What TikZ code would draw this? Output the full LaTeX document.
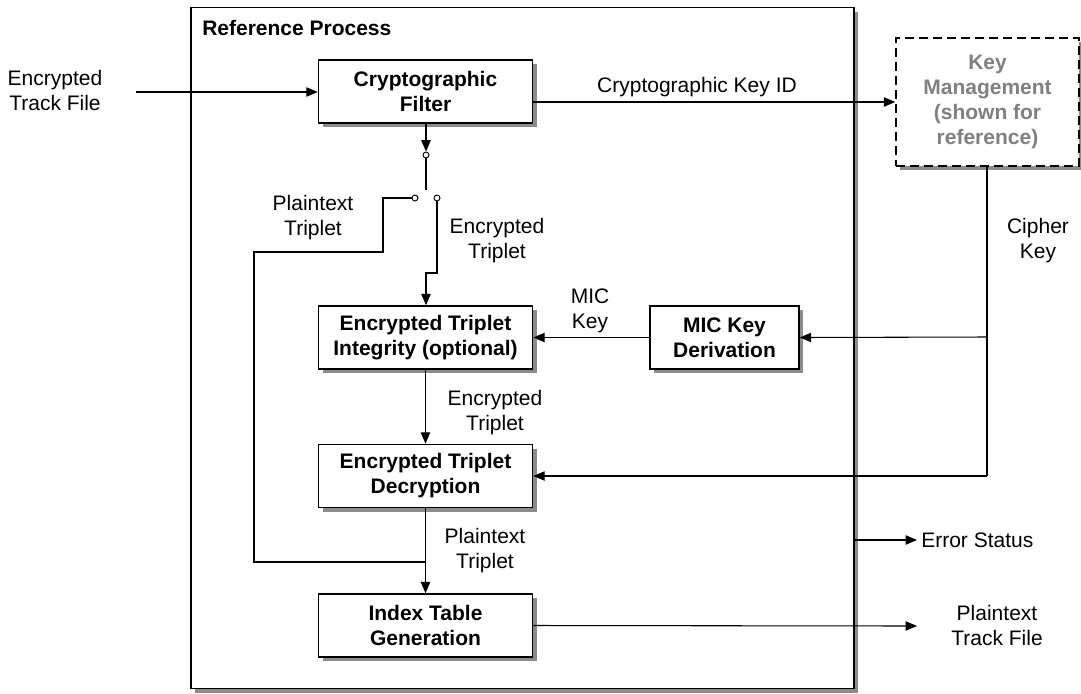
\documentclass[tikz,border=0pt]{standalone}
\usepackage{fontspec}
\setmainfont{Liberation Sans}
\usetikzlibrary{arrows.meta,shadows}
\definecolor{shadowgray}{HTML}{8C8C8C}
\definecolor{keygray}{HTML}{808080}
\begin{document}
\begin{tikzpicture}[x=0.75pt,y=-0.75pt,
  txt/.style={font=\fontsize{15.75}{18.75}\selectfont, align=center, inner sep=0pt},
  boxshadow/.style={drop shadow={shadow xshift=3pt, shadow yshift=-3pt, fill=shadowgray, opacity=1}},
  procbox/.style={draw=black, line width=1.2pt, fill=white, boxshadow,
    font=\fontsize{15.75}{18.75}\selectfont\bfseries, align=center,
    inner sep=0pt, minimum width=160.5pt, minimum height=47.25pt},
  keybox/.style={draw=black, line width=1.2pt, fill=white, boxshadow,
    dash pattern=on 7pt off 3.5pt, text=keygray,
    font=\fontsize{15.75}{18.75}\selectfont\bfseries, align=center,
    inner sep=0pt, minimum width=137.25pt, minimum height=96pt},
  wire/.style={draw=black, line width=0.8pt},
  flow/.style={wire, -{Triangle[length=8.5pt,width=7pt]}},
  contact/.style={circle, draw=black, line width=0.7pt, fill=white, inner sep=0pt, minimum size=4.5pt}
]
\useasboundingbox (0,0) rectangle (1081,693);

% enclosing process frame
\node[draw=black, line width=1.2pt, fill=white, boxshadow, inner sep=0pt,
      minimum width=497.25pt, minimum height=510.75pt] (frame) at (522.5,348) {};
\node[anchor=west, inner sep=0pt, font=\fontsize{15.75}{18.75}\selectfont\bfseries] (title) at (202,28) {Reference Process};

% processing blocks
\node[procbox] (filter) at (425.5,91.5) {Cryptographic\\Filter};
\node[procbox] (integ) at (425.5,337.5) {Encrypted Triplet\\Integrity (optional)};
\node[procbox, minimum width=111.75pt] (mic) at (724.5,337.5) {MIC Key\\Derivation};
\node[procbox] (decr) at (425.5,476) {Encrypted Triplet\\Decryption};
\node[procbox] (index) at (425.5,625.5) {Index Table\\Generation};
\node[keybox] (keymgmt) at (987.5,102) {Key\\Management\\(shown for\\reference)};

% free ends of the external connectors
\coordinate (inStart) at (136,92);
\coordinate (errStart) at (854,540);
\coordinate (errEnd) at (917,540);
\coordinate (outEnd) at (917,626);
\coordinate (keyTap) at (987,337);
\coordinate (keyCorner) at (987,476);

% input and key identifier
\draw[flow] (inStart) -- (filter.west |- inStart);
\draw[flow] (filter.east |- 0,102) -- (keymgmt.west |- 0,102);

% selector switch below the filter
\node[contact] (pivot) at (426,155) {};
\node[contact] (cplain) at (415,198) {};
\node[contact] (cenc) at (437,198) {};
\draw[flow] (filter.south -| pivot) -- (pivot.north);
\draw[wire] (pivot.south) -- (426,190);
\draw[wire] (cplain.west) -- (383,198) -- (383,252) -- (254,252) -- (254,562) -- (426,562);
\draw[flow] (cenc.south) -- (437,273) -- (426,273) -- (integ.north -| 426,0);

% main chain
\draw[flow] (integ.south) -- (decr.north);
\draw[flow] (decr.south) -- (index.north);
\draw[flow] (mic.west) -- (integ.east);
\draw[flow] (index.east) -- (outEnd);
\draw[flow] (errStart) -- (errEnd);

% cipher key distribution
\draw[wire] (keymgmt.south -| keyTap) -- (keyCorner);
\draw[flow] (keyTap) -- (mic.east);
\draw[flow] (keyCorner) -- (decr.east |- keyCorner);

% labels
\node[txt] (lblIn) at (55,90.5) {Encrypted\\Track File};
\node[txt] (lblKeyId) at (697,87) {Cryptographic Key ID};
\node[txt] (lblCipher) at (1038,240.5) {Cipher\\Key};
\node[txt] (lblMic) at (590,311) {MIC\\Key};
\node[txt] (lblPlainTop) at (313,217.5) {Plaintext\\Triplet};
\node[txt] (lblEncTop) at (497,240.5) {Encrypted\\Triplet};
\node[txt] (lblEncMid) at (495,412.5) {Encrypted\\Triplet};
\node[txt] (lblPlainBot) at (485,550.5) {Plaintext\\Triplet};
\node[txt, anchor=west] (lblErr) at (921,540) {Error Status};
\node[txt] (lblOut) at (997,625) {Plaintext\\Track File};
\end{tikzpicture}
\end{document}
